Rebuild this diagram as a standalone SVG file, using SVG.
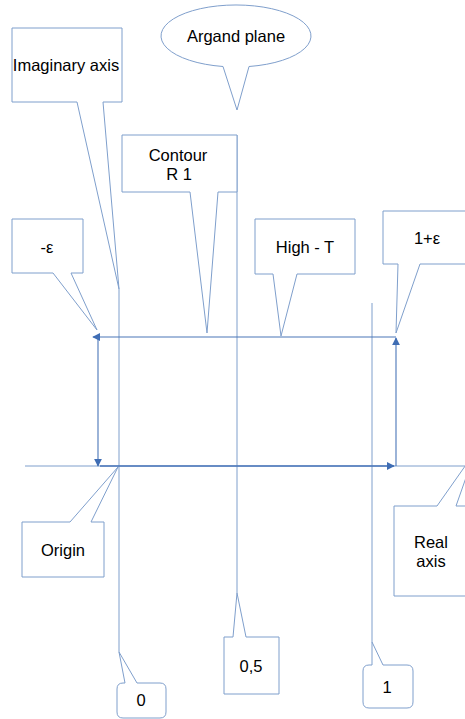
<svg xmlns="http://www.w3.org/2000/svg" width="465" height="719" viewBox="0 0 465 719">
<style>
.co{fill:#ffffff;stroke:#7f9fcc;stroke-width:1}
.ax{fill:none;stroke:#7f9fcc;stroke-width:1}
.ar{fill:none;stroke:#4a76b8;stroke-width:1.1}
.arb{stroke-width:1.7}
text{font-family:"Liberation Sans",Arial,sans-serif;font-size:16.5px;fill:#000;text-anchor:middle}
</style>
<defs>
<marker id="ah" viewBox="0 0 10 10" refX="9" refY="5" markerWidth="8" markerHeight="8" markerUnits="userSpaceOnUse" orient="auto">
<path d="M0,0 L10,5 L0,10 Z" fill="#3f6db4"/>
</marker>
</defs>
<rect width="465" height="719" fill="#ffffff"/>
<g id="connectors">
<line class="ax" x1="119" y1="289" x2="119" y2="652"/>
<line class="ax" x1="237" y1="135" x2="237" y2="593"/>
<line class="ax" x1="372" y1="303" x2="372" y2="642"/>
<line class="ax" x1="25" y1="466" x2="465" y2="466"/>
<line class="ar arb" x1="100" y1="466" x2="394" y2="466" marker-end="url(#ah)"/>
<line class="ar" x1="396" y1="466" x2="396" y2="338" marker-end="url(#ah)"/>
<line class="ar" x1="396" y1="337" x2="93" y2="337" marker-end="url(#ah)"/>
<line class="ar" x1="98" y1="337" x2="98" y2="466" marker-end="url(#ah)"/>
</g>
<g id="argand-plane">
<path class="co" d="M223,66.5 L237,110 L249,66.5 A75,31 0 1 0 223,66.5 Z"/>
<text x="236" y="42">Argand plane</text>
</g>
<g id="imaginary-axis">
<path class="co" d="M12,28 H122 V102 H103 L119,289 L77,102 H12 Z"/>
<text x="66" y="71">Imaginary axis</text>
</g>
<g id="contour">
<path class="co" d="M122,135 H237 V192 H218 L207,333 L190,192 H122 Z"/>
<text x="178" y="161">Contour</text>
<text x="179" y="180">R 1</text>
</g>
<g id="minus-eps">
<path class="co" d="M12,219 H83 V273 H71 L97,330 L53,273 H12 Z"/>
<text x="47" y="253">-ε</text>
</g>
<g id="high-t">
<path class="co" d="M255,219 H355 V274 H297 L281,336 L273,274 H255 Z"/>
<text x="305" y="253">High - T</text>
</g>
<g id="one-plus-eps">
<path class="co" d="M383,211 H475 V264 H420 L396,333 L398,264 H383 Z"/>
<text x="427" y="244">1+ε</text>
</g>
<g id="origin">
<path class="co" d="M22,522 H70 L118,467 L91,522 H104 V577 H22 Z"/>
<text x="63" y="556">Origin</text>
</g>
<g id="real-axis">
<path class="co" d="M394,506 H437 L475,452 L456,506 H480 V596 H394 Z"/>
<text x="431" y="548">Real</text>
<text x="431" y="567">axis</text>
</g>
<g id="half">
<path class="co" d="M224,637 H233 L237,593 L246,637 H279 V694 H224 Z"/>
<text x="251" y="672">0,5</text>
</g>
<g id="zero">
<path class="co" d="M123,683 H125 L119,652 L137,683 H160 Q166,683 166,689 V712 Q166,718 160,718 H123 Q117,718 117,712 V689 Q117,683 123,683 Z"/>
<text x="141" y="706">0</text>
</g>
<g id="one">
<path class="co" d="M369,665 H372 L372,642 L383,665 H407 Q413,665 413,671 V702 Q413,708 407,708 H369 Q363,708 363,702 V671 Q363,665 369,665 Z"/>
<text x="387" y="693">1</text>
</g>
</svg>
